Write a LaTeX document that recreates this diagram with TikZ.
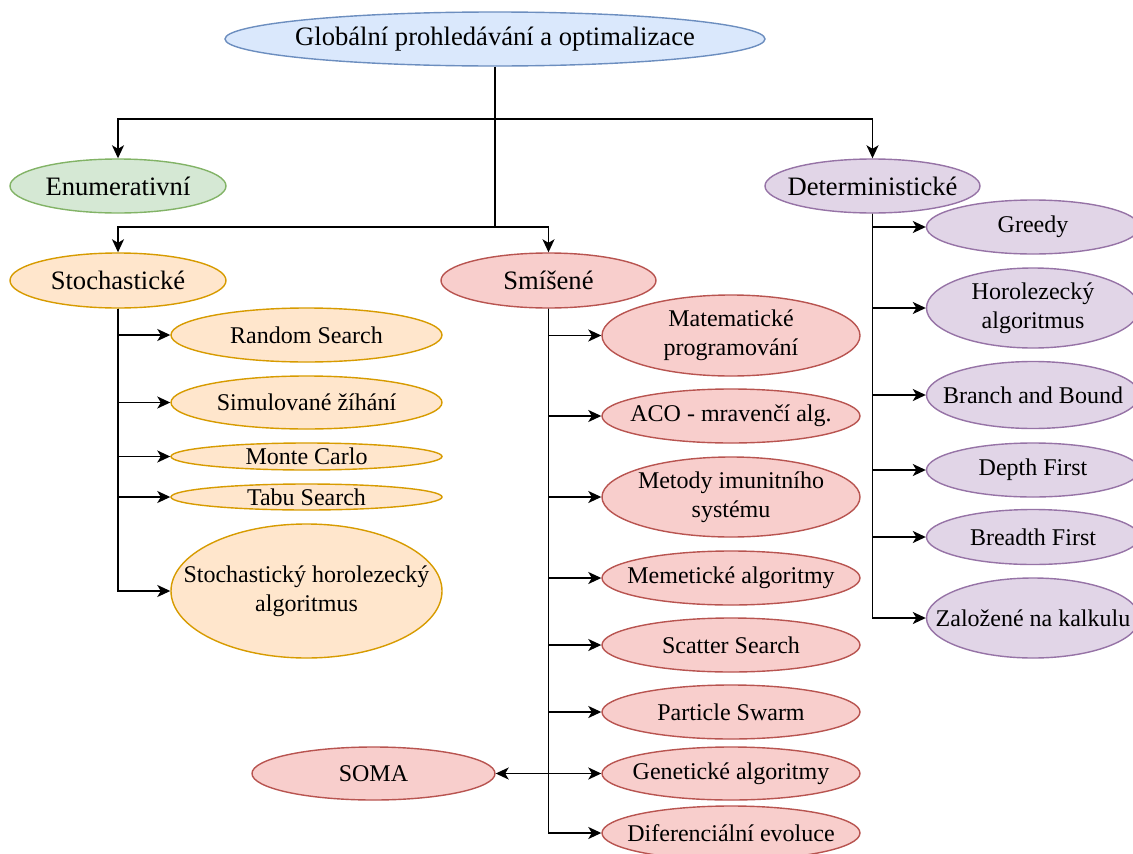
\documentclass[tikz,border=0pt]{standalone}
\usepackage{fontspec}
\setmainfont{Liberation Serif}
\usetikzlibrary{shapes.geometric,arrows.meta}

\definecolor{blueF}{HTML}{DAE8FC}\definecolor{blueD}{HTML}{6C8EBF}
\definecolor{greenF}{HTML}{D5E8D4}\definecolor{greenD}{HTML}{82B366}
\definecolor{orangeF}{HTML}{FFE6CC}\definecolor{orangeD}{HTML}{D79B00}
\definecolor{redF}{HTML}{F8CECC}\definecolor{redD}{HTML}{B85450}
\definecolor{purpleF}{HTML}{E1D5E7}\definecolor{purpleD}{HTML}{9673A6}

\tikzset{
  oval/.style={ellipse, draw, line width=1.4pt, inner sep=0pt},
  blueOval/.style={oval, fill=blueF, draw=blueD},
  greenOval/.style={oval, fill=greenF, draw=greenD},
  orangeOval/.style={oval, fill=orangeF, draw=orangeD},
  redOval/.style={oval, fill=redF, draw=redD},
  purpleOval/.style={oval, fill=purpleF, draw=purpleD},
  caption/.style={align=center, inner sep=0pt, text=black,
    font=\fontsize{24}{28.8}\selectfont},
  bigcaption/.style={caption, font=\fontsize{26.6}{32}\selectfont},
  arr/.style={line width=1.6pt, draw=black,
    -{Stealth[length=13pt,width=12pt,inset=3.5pt]}},
}

% ellipse of fixed size with its text laid on top
% [text style]{name}{x}{y}{width}{height}{shape style}{text}
\newcommand\ellnode[8][caption]{%
  \node[#7, minimum width=#5pt, minimum height=#6pt] (#2) at (#3,#4) {};
  \node[#1] (#2-text) at (#2.center) {#8};
}

\begin{document}
\begin{tikzpicture}[x=1pt,y=-1pt]
\useasboundingbox (0,0) rectangle (1133,854);

% top levels
\ellnode[bigcaption]{root}{495}{39}{540}{54}{blueOval}{Globální prohledávání a optimalizace}
\ellnode[bigcaption]{enum}{118}{186}{216}{54}{greenOval}{Enumerativní}
\ellnode[bigcaption]{det}{872.5}{186}{215}{54}{purpleOval}{Deterministické}
\ellnode[bigcaption]{stoch}{118}{280.5}{216}{55}{orangeOval}{Stochastické}
\ellnode[bigcaption]{smis}{548.5}{280.5}{215}{55}{redOval}{Smíšené}

% stochastic methods
\ellnode{rs}{306.5}{335}{271}{54}{orangeOval}{Random Search}
\ellnode{sim}{306.5}{402.5}{271}{53}{orangeOval}{Simulované žíhání}
\ellnode{mc}{306.5}{456.5}{271}{27}{orangeOval}{Monte Carlo}
\ellnode{tabu}{306.5}{497}{271}{26}{orangeOval}{Tabu Search}
\ellnode{shc}{306.5}{591}{271}{134}{orangeOval}{Stochastický horolezecký\\algoritmus}

% mixed methods
\ellnode{mat}{731}{335.5}{258}{81}{redOval}{Matematické\\programování}
\ellnode{aco}{731}{416}{258}{54}{redOval}{ACO - mravenčí alg.}
\ellnode{met}{731}{497}{258}{80}{redOval}{Metody imunitního\\systému}
\ellnode{mem}{731}{578}{258}{54}{redOval}{Memetické algoritmy}
\ellnode{scat}{731}{645}{258}{54}{redOval}{Scatter Search}
\ellnode{part}{731}{712}{258}{54}{redOval}{Particle Swarm}
\ellnode{gen}{731}{773.5}{258}{53}{redOval}{Genetické algoritmy}
\ellnode{dif}{731}{833}{258}{54}{redOval}{Diferenciální evoluce}
\ellnode{soma}{373.5}{773.5}{243}{53}{redOval}{SOMA}

% deterministic methods
\ellnode{greedy}{1033}{227}{213}{54}{purpleOval}{Greedy}
\ellnode{horo}{1033}{308}{213}{80}{purpleOval}{Horolezecký\\algoritmus}
\ellnode{bb}{1033}{395}{213}{67}{purpleOval}{Branch and Bound}
\ellnode{df}{1033}{470}{213}{54}{purpleOval}{Depth First}
\ellnode{bf}{1033}{537}{213}{55}{purpleOval}{Breadth First}
\ellnode{zal}{1033}{618}{213}{80}{purpleOval}{Založené na kalkulu}

% junctions on the main trunk
\coordinate (j1) at (495,119);
\coordinate (j2) at (495,227);

\draw[line width=1.6pt] (root.south) -- (j2);
\draw[arr] (j1) -| (enum.north);
\draw[arr] (j1) -| (det.north);
\draw[arr] (j2) -| (stoch.north);
\draw[arr] (j2) -| (smis.north);

\foreach \c in {rs,sim,mc,tabu,shc}
  \draw[arr] (stoch.south) |- (\c.west);
\foreach \c in {mat,aco,met,mem,scat,part,gen,dif}
  \draw[arr] (smis.south) |- (\c.west);
\draw[arr] (smis.south) |- (soma.east);
\foreach \c in {greedy,horo,bb,df,bf,zal}
  \draw[arr] (det.south) |- (\c.west);

\end{tikzpicture}
\end{document}
